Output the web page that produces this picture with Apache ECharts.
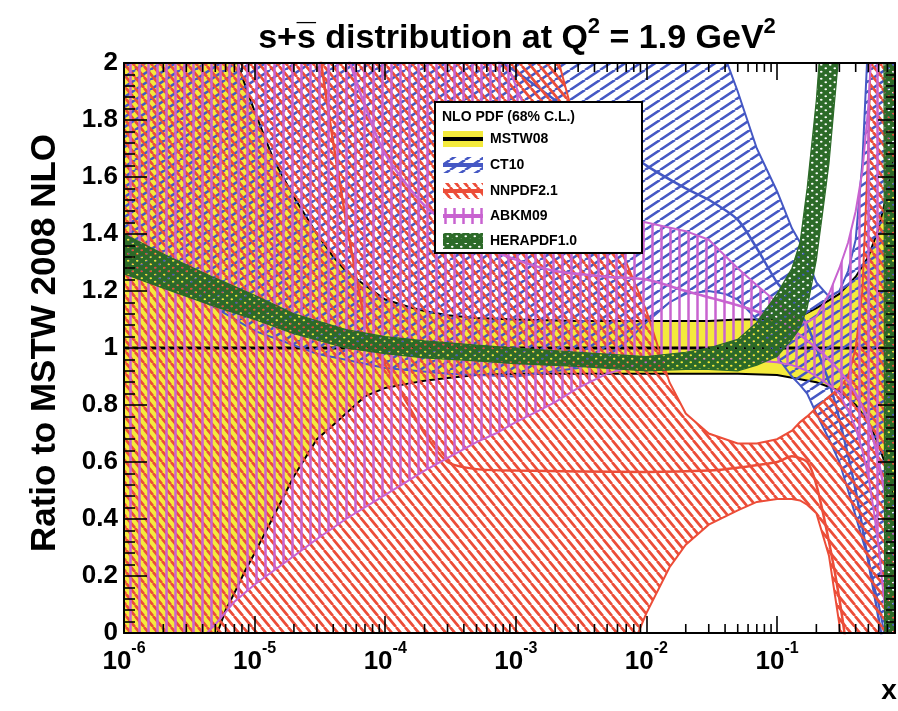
<!DOCTYPE html>
<html>
<head>
<meta charset="utf-8">
<script src="https://cdn.jsdelivr.net/npm/echarts@6/dist/echarts.min.js"></script>
<style>
  html, body { margin: 0; padding: 0; background: #fff; }
  #chart { width: 898px; height: 711px; }
</style>
</head>
<body>
<div id="chart"></div>
<script>
// ---- axis ranges and tick values ----
const xMin = 1e-6, xMax = 0.8;
const yMin = 0, yMax = 2, yStep = 0.2;
const decadeExponents = [-6, -5, -4, -3, -2, -1];
const minorMultipliers = [2, 3, 4, 5, 6, 7, 8, 9];

// ---- MSTW08 (reference set, ratio band) ----
const mstwX  = [1e-6, 2e-6, 3e-6, 4e-6, 5e-6, 6e-6, 7e-6, 8.5e-6, 1e-5, 1.4e-5,
                2e-5, 3e-5, 4e-5, 5e-5, 7e-5, 1e-4, 1.5e-4, 2e-4, 3e-4, 5e-4,
                1e-3, 3e-3, 1e-2, 0.03, 0.05, 0.1, 0.15, 0.2, 0.3, 0.4,
                0.5, 0.6, 0.7, 0.8];
const mstwHi = [3.6, 3.0, 2.65, 2.4, 2.25, 2.12, 2.03, 1.92, 1.83, 1.66,
                1.53, 1.40, 1.32, 1.27, 1.22, 1.17, 1.145, 1.13, 1.115, 1.105,
                1.10, 1.095, 1.095, 1.095, 1.10, 1.10, 1.11, 1.14, 1.19, 1.25,
                1.32, 1.42, 1.55, 1.7];
const mstwLo = [-1.5, -0.9, -0.5, -0.22, -0.02, 0.08, 0.14, 0.22, 0.28, 0.41,
                0.55, 0.68, 0.73, 0.77, 0.83, 0.86, 0.875, 0.885, 0.895, 0.905,
                0.91, 0.91, 0.91, 0.91, 0.91, 0.905, 0.89, 0.88, 0.85, 0.8,
                0.74, 0.66, 0.57, 0.45];
const mstwMidX = [1e-6, 0.8];
const mstwMid  = [1, 1];

// ---- CT10 ----
const ct10X  = [1e-6, 3e-6, 1e-5, 3e-5, 1e-4, 3e-4, 1e-3, 3e-3, 5e-3, 7e-3,
                1e-2, 0.015, 0.02, 0.03, 0.04, 0.05, 0.07, 0.1, 0.13, 0.15,
                0.17, 0.2, 0.25, 0.3, 0.35, 0.4, 0.45, 0.5, 0.55, 0.6,
                0.65, 0.7, 0.8];
const ct10Hi = [3.5, 3.5, 3.5, 3.5, 3.5, 3.4, 3.2, 2.9, 2.75, 2.6,
                2.5, 2.35, 2.25, 2.12, 2.02, 1.9, 1.7, 1.55, 1.42, 1.37,
                1.31, 1.23, 1.18, 1.2, 1.27, 1.38, 1.65, 2.1, 2.6, 3.0,
                3.3, 3.5, 3.8];
const ct10Lo = [1.3, 1.2, 1.06, 0.98, 0.93, 0.91, 0.9, 0.93, 0.97, 1.02,
                1.09, 1.16, 1.19, 1.2, 1.19, 1.17, 1.1, 0.97, 0.9, 0.87,
                0.84, 0.77, 0.68, 0.6, 0.5, 0.41, 0.33, 0.26, 0.17, 0.1,
                0.02, -0.1, -0.4];
const ct10MidX = [1e-4, 3e-4, 1e-3, 2e-3, 5e-3, 1e-2, 0.02, 0.03, 0.05, 0.07,
                  0.1, 0.13, 0.17, 0.2, 0.25, 0.3, 0.4, 0.5, 0.6, 0.8];
const ct10Mid  = [2.3, 2.12, 1.97, 1.87, 1.74, 1.64, 1.56, 1.52, 1.45, 1.35,
                  1.23, 1.17, 1.08, 1.0, 0.88, 0.75, 0.5, 0.25, 0.05, -0.3];

// ---- NNPDF2.1 ----
const nnX  = [1e-6, 1e-5, 1e-4, 1e-3, 1.5e-3, 2e-3, 3e-3, 5e-3, 7e-3, 1e-2,
              0.015, 0.02, 0.03, 0.05, 0.07, 0.1, 0.13, 0.15, 0.17, 0.2,
              0.25, 0.3, 0.35, 0.4, 0.45, 0.5, 0.55, 0.6, 0.8];
const nnHi = [3.5, 3.5, 3.5, 3.0, 2.45, 2.05, 1.75, 1.45, 1.3, 1.13,
              0.88, 0.77, 0.7, 0.665, 0.665, 0.68, 0.71, 0.74, 0.76, 0.79,
              0.83, 0.86, 0.9, 1.0, 1.2, 1.7, 2.5, 3.2, 3.5];
const nnLo = [-1.5, -1.5, -1.2, -0.8, -0.65, -0.55, -0.4, -0.22, -0.1, 0.07,
              0.23, 0.31, 0.38, 0.43, 0.46, 0.47, 0.47, 0.465, 0.45, 0.42,
              0.27, 0.03, -0.3, -0.6, -0.8, -1.0, -1.0, -1.0, -1.0];
const nnMidX = [1e-5, 2e-5, 3e-5, 4e-5, 5e-5, 6e-5, 7e-5, 8.5e-5, 1e-4, 1.5e-4,
                2e-4, 3e-4, 5e-4, 1e-3, 1e-2, 0.03, 0.05, 0.1, 0.13, 0.17,
                0.2, 0.25, 0.3, 0.35, 0.4];
const nnMid  = [3.6, 2.7, 2.1, 1.72, 1.45, 1.25, 1.1, 0.99, 0.94, 0.8,
                0.7, 0.6, 0.575, 0.57, 0.565, 0.57, 0.58, 0.6, 0.62, 0.6,
                0.52, 0.32, 0.12, -0.1, -0.4];

// ---- ABKM09 ----
const abX  = [1e-6, 2e-6, 3e-6, 4.3e-6, 5e-6, 7e-6, 1e-5, 2e-5, 3e-5, 5e-5,
              1e-4, 2e-4, 5e-4, 7e-4, 1e-3, 1.5e-3, 2e-3, 3e-3, 5e-3, 1e-2,
              0.02, 0.03, 0.05, 0.07, 0.1, 0.13, 0.15, 0.17, 0.2, 0.25,
              0.3, 0.35, 0.4, 0.45, 0.5, 0.55, 0.6, 0.7, 0.8];
const abHi = [3.5, 3.5, 3.5, 3.5, 3.5, 3.5, 3.5, 3.5, 3.5, 3.5,
              3.4, 3.0, 2.4, 2.1, 1.92, 1.72, 1.6, 1.5, 1.46, 1.44,
              1.41, 1.38, 1.28, 1.22, 1.16, 1.11, 1.09, 1.09, 1.11, 1.19,
              1.28, 1.37, 1.48, 1.62, 1.85, 2.2, 2.6, 3.0, 3.2];
const abLo = [-1.0, -0.6, -0.3, 0.0, 0.03, 0.11, 0.17, 0.27, 0.33, 0.4,
              0.485, 0.57, 0.67, 0.7, 0.74, 0.78, 0.81, 0.86, 0.91, 0.95,
              0.96, 0.96, 0.96, 0.955, 0.95, 0.94, 0.93, 0.92, 0.9, 0.87,
              0.84, 0.78, 0.72, 0.64, 0.55, 0.43, 0.3, 0.0, -0.4];
const abMidX = [3e-5, 4e-5, 5e-5, 7e-5, 1e-4, 2e-4, 5e-4, 1e-3, 2e-3, 5e-3,
                1e-2, 0.02, 0.05, 0.1, 0.2, 0.3, 0.4, 0.5, 0.6, 0.8];
const abMid  = [2.6, 2.25, 2.05, 1.85, 1.68, 1.5, 1.37, 1.31, 1.27, 1.25,
                1.24, 1.2, 1.15, 1.1, 1.0, 0.92, 0.84, 0.74, 0.6, 0.3];

// ---- HERAPDF1.0 ----
const heX  = [1e-6, 2e-6, 5e-6, 1e-5, 2e-5, 5e-5, 1e-4, 2e-4, 5e-4, 1e-3,
              3e-3, 1e-2, 0.02, 0.03, 0.05, 0.07, 0.1, 0.13, 0.15, 0.17,
              0.2, 0.23, 0.25, 0.3, 0.4, 0.5, 0.6, 0.655, 0.67, 0.8];
const heLo = [1.26, 1.21, 1.145, 1.10, 1.05, 1.0, 0.98, 0.965, 0.955, 0.945,
              0.935, 0.92, 0.925, 0.925, 0.92, 0.94, 0.97, 1.03, 1.07, 1.14,
              1.31, 1.52, 1.65, 2.05, 2.6, 3.0, 3.2, 3.2, -1.0, -1.0];
const heHi = [1.40, 1.33, 1.245, 1.185, 1.12, 1.065, 1.04, 1.025, 1.01, 1.0,
              0.985, 0.97, 0.985, 1.0, 1.03, 1.09, 1.19, 1.28, 1.37, 1.56,
              1.87, 2.25, 2.5, 2.8, 3.2, 3.5, 3.8, 3.8, 3.8, 4.0];

// ---- styling ----
const FONT = "'Liberation Sans', Arial, Helvetica, sans-serif";
const COL = {
  yellow: '#f4ea3c',
  blue: '#4558c4',
  red: '#ec4d38',
  mag: '#c863d0',
  green: '#2c6a28'
};

// Hatch tiles used as pattern fills
function hatch(color, w, h, lw, kind) {
  const c = document.createElement('canvas');
  c.width = w; c.height = h;
  const g = c.getContext('2d');
  g.strokeStyle = color;
  g.lineWidth = lw;
  g.beginPath();
  if (kind === 'up') {
    [-w, 0, w].forEach(dx => { g.moveTo(dx, h); g.lineTo(dx + w, 0); });
  } else if (kind === 'down') {
    [-w, 0, w].forEach(dx => { g.moveTo(dx, 0); g.lineTo(dx + w, h); });
  } else {
    g.moveTo(w / 2, 0); g.lineTo(w / 2, h);
  }
  g.stroke();
  return { image: c, repeat: 'repeat' };
}
function dotted(color, w, h, r) {
  const c = document.createElement('canvas');
  c.width = w; c.height = h;
  const g = c.getContext('2d');
  g.fillStyle = color;
  g.fillRect(0, 0, w, h);
  g.globalCompositeOperation = 'destination-out';
  g.beginPath();
  g.ellipse(w * 0.25, h * 0.25, r * 1.3, r, 0, 0, Math.PI * 2);
  g.ellipse(w * 0.75, h * 0.75, r * 1.3, r, 0, 0, Math.PI * 2);
  g.fill();
  return { image: c, repeat: 'repeat' };
}

const patBlue  = hatch(COL.blue, 15, 10, 2.6, 'up');
const patRed   = hatch(COL.red, 9, 11, 2.7, 'down');
const patMag   = hatch(COL.mag, 9, 4, 2.5, 'vert');
const patGreen = dotted(COL.green, 9, 7, 1.0);

// A filled uncertainty band between lower and upper curves, with edge lines
function band(name, xs, lo, hi, fill, edge, edgeW, z) {
  return {
    type: 'custom',
    name: name,
    z: z,
    silent: true,
    clip: true,
    data: xs.map((x, i) => [x, lo[i], hi[i]]),
    encode: { x: 0, y: [1, 2] },
    renderItem: function (params, api) {
      if (params.dataIndexInside !== 0) return null;
      const n = params.dataInsideLength;
      const up = [], dn = [];
      for (let i = 0; i < n; i++) {
        const x = api.value(0, i);
        dn.push(api.coord([x, api.value(1, i)]));
        up.push(api.coord([x, api.value(2, i)]));
      }
      const cs = params.coordSys;
      const children = [
        { type: 'polygon', shape: { points: up.concat(dn.slice().reverse()) },
          style: { fill: fill, stroke: null } }
      ];
      if (edge) {
        children.push(
          { type: 'polyline', shape: { points: up }, style: { stroke: edge, lineWidth: edgeW, fill: null } },
          { type: 'polyline', shape: { points: dn }, style: { stroke: edge, lineWidth: edgeW, fill: null } }
        );
      }
      return {
        type: 'group',
        clipPath: { type: 'rect', shape: { x: cs.x, y: cs.y, width: cs.width, height: cs.height } },
        children: children
      };
    }
  };
}

// Central value curve of a set
function central(name, xs, ys, color, width, z) {
  return {
    type: 'line',
    name: name,
    z: z,
    silent: true,
    clip: true,
    data: xs.map((x, i) => [x, ys[i]]),
    showSymbol: false,
    symbol: 'none',
    smooth: 0.25,
    lineStyle: { color: color, width: width }
  };
}

// Sub-decade (2..9) tick positions on the log axis
const minorTickValues = [];
decadeExponents.forEach(d => minorMultipliers.forEach(m => {
  const v = m * Math.pow(10, d);
  if (v < xMax * 0.999) minorTickValues.push(v);
}));

// Short ticks on the bottom and top frames, placed by the log axis
const minorTicks = {
  type: 'custom',
  name: 'minor ticks',
  z: 50,
  silent: true,
  data: minorTickValues.map(v => [v]),
  encode: { x: 0 },
  renderItem: function (params, api) {
    const x = api.value(0);
    const top = api.coord([x, yMax]);
    const bot = api.coord([x, yMin]);
    const st = { stroke: '#000', lineWidth: 1.6 };
    return { type: 'group', children: [
      { type: 'line', shape: { x1: top[0], y1: top[1], x2: top[0], y2: top[1] + 9 }, style: st },
      { type: 'line', shape: { x1: bot[0], y1: bot[1], x2: bot[0], y2: bot[1] - 9 }, style: st }
    ] };
  }
};

function powerLabel(v) {
  const e = Math.log10(v);
  const r = Math.round(e);
  if (Math.abs(e - r) > 1e-6 || decadeExponents.indexOf(r) < 0) return '';
  return '{b|10}{s|' + r + '}';
}

const frameLine = { show: true, onZero: false, lineStyle: { color: '#000', width: 2 } };
const tickStyle = { color: '#000', width: 1.6 };

const xAxes = [
  { type: 'log', logBase: 10, min: xMin, max: xMax, position: 'bottom', z: 50,
    axisLine: frameLine,
    axisTick: { show: true, inside: true, length: 17, lineStyle: tickStyle },
    splitLine: { show: false },
    axisLabel: {
      show: true, interval: 0, hideOverlap: false, margin: 8,
      formatter: powerLabel,
      rich: {
        b: { fontFamily: FONT, fontWeight: 'bold', fontSize: 26, color: '#000', lineHeight: 34, verticalAlign: 'bottom' },
        s: { fontFamily: FONT, fontWeight: 'bold', fontSize: 16, color: '#000', lineHeight: 16, verticalAlign: 'top' }
      }
    }
  },
  { type: 'log', logBase: 10, min: xMin, max: xMax, position: 'top', z: 50,
    axisLine: frameLine,
    axisTick: { show: true, inside: true, length: 17, lineStyle: tickStyle },
    splitLine: { show: false }, axisLabel: { show: false }
  }
];

const yAxes = [
  { type: 'value', min: yMin, max: yMax, interval: yStep, position: 'left', z: 50,
    axisLine: frameLine,
    axisTick: { show: true, inside: true, length: 23, lineStyle: tickStyle },
    minorTick: { show: true, splitNumber: 5, length: 11, lineStyle: tickStyle },
    splitLine: { show: false }, minorSplitLine: { show: false },
    axisLabel: { fontFamily: FONT, fontWeight: 'bold', fontSize: 26, color: '#000', margin: 6 }
  },
  { type: 'value', min: yMin, max: yMax, interval: yStep, position: 'right', z: 50,
    axisLine: frameLine,
    axisTick: { show: true, inside: true, length: 17, lineStyle: tickStyle },
    minorTick: { show: true, splitNumber: 5, length: 9, lineStyle: tickStyle },
    splitLine: { show: false }, minorSplitLine: { show: false },
    axisLabel: { show: false }
  }
];

// ---- legend box ----
const LX = 435, LY = 102, LW = 207, LH = 151;
const legendRows = [
  { label: 'MSTW08',     fill: COL.yellow, line: '#000',    lw: 4, y: 139 },
  { label: 'CT10',       fill: patBlue,    line: COL.blue,  lw: 4, y: 165 },
  { label: 'NNPDF2.1',   fill: patRed,     line: COL.red,   lw: 4, y: 191 },
  { label: 'ABKM09',     fill: patMag,     line: COL.mag,   lw: 4, y: 216 },
  { label: 'HERAPDF1.0', fill: patGreen,   line: COL.green, lw: 4, y: 241 }
];
const LZ = 200;
const legendEls = [
  { type: 'rect', z: LZ, shape: { x: LX, y: LY, width: LW, height: LH },
    style: { fill: '#fff', stroke: '#000', lineWidth: 2 } },
  { type: 'text', z: LZ, x: 442, y: 117,
    style: { text: 'NLO PDF (68% C.L.)', font: 'bold 14px ' + FONT, fill: '#000', verticalAlign: 'middle' } }
];
legendRows.forEach(r => {
  legendEls.push(
    { type: 'rect', z: LZ, shape: { x: 443, y: r.y - 8, width: 40, height: 16 }, style: { fill: r.fill } },
    { type: 'line', z: LZ, shape: { x1: 443, y1: r.y, x2: 483, y2: r.y }, style: { stroke: r.line, lineWidth: r.lw } },
    { type: 'text', z: LZ, x: 490, y: r.y,
      style: { text: r.label, font: 'bold 14px ' + FONT, fill: '#000', verticalAlign: 'middle' } }
  );
});

const chart = echarts.init(document.getElementById('chart'), null, { renderer: 'canvas' });
chart.setOption({
  animation: false,
  backgroundColor: '#fff',
  grid: { left: 124, right: 1, top: 63, bottom: 78, containLabel: false },
  xAxis: xAxes,
  yAxis: yAxes,
  series: [
    band('MSTW08', mstwX, mstwLo, mstwHi, COL.yellow, '#000', 2, 1),
    central('MSTW08 central', mstwMidX, mstwMid, '#000', 3, 1),
    band('CT10', ct10X, ct10Lo, ct10Hi, patBlue, COL.blue, 2, 2),
    central('CT10 central', ct10MidX, ct10Mid, COL.blue, 2.5, 2),
    band('NNPDF2.1', nnX, nnLo, nnHi, patRed, COL.red, 2, 3),
    central('NNPDF2.1 central', nnMidX, nnMid, COL.red, 2.5, 3),
    band('ABKM09', abX, abLo, abHi, patMag, COL.mag, 2, 4),
    central('ABKM09 central', abMidX, abMid, COL.mag, 2.5, 4),
    band('HERAPDF1.0', heX, heLo, heHi, patGreen, COL.green, 1.2, 5),
    minorTicks
  ],
  graphic: {
    elements: [
      { type: 'text', x: 517, y: 36, z: LZ,
        style: {
          text: '{a|s+s\u0305 distribution at Q}{p|2}{a| = 1.9 GeV}{p|2}',
          align: 'center', verticalAlign: 'middle',
          rich: {
            a: { fontFamily: FONT, fontWeight: 'bold', fontSize: 34, fill: '#000', lineHeight: 40, verticalAlign: 'bottom' },
            p: { fontFamily: FONT, fontWeight: 'bold', fontSize: 22, fill: '#000', lineHeight: 22, verticalAlign: 'top' }
          }
        }
      },
      { type: 'text', x: 45, y: 343, rotation: Math.PI / 2, z: LZ,
        style: { text: 'Ratio to MSTW 2008 NLO', font: 'bold 35px ' + FONT, fill: '#000',
                 align: 'center', verticalAlign: 'middle' } },
      { type: 'text', x: 889, y: 691, z: LZ,
        style: { text: 'x', font: 'bold 28px ' + FONT, fill: '#000', align: 'center', verticalAlign: 'middle' } },
      { type: 'group', z: LZ, children: legendEls }
    ]
  }
});
</script>
</body>
</html>
